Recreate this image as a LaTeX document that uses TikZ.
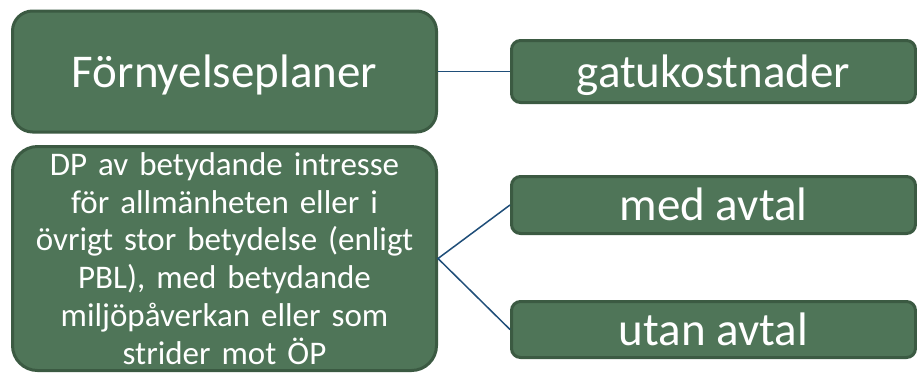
\documentclass[tikz,border=0pt]{standalone}
\usepackage{fontspec}
\setmainfont{Carlito}
\newfontfamily\dpfont{Carlito}[WordSpace=0.85]
\definecolor{boxfill}{HTML}{4F7558}
\definecolor{boxline}{HTML}{3B5A42}
\definecolor{conn}{HTML}{1F4E79}
\begin{document}
\begin{tikzpicture}[x=1pt,y=-1pt,
  gbox/.style={draw=boxline, line width=3pt, fill=boxfill, text=white, inner sep=0pt, align=center},
  bigtxt/.style={font=\fontsize{47}{56}\selectfont, text height=31pt, text depth=0pt},
  smalltxt/.style={font=\dpfont\fontsize{33}{37.8}\selectfont},
  link/.style={draw=conn, line width=1.5pt}]
\useasboundingbox (0,0) rectangle (917,373);
\fill[white] (0,0) rectangle (917,373);
\node[gbox, bigtxt, rounded corners=20pt, minimum width=424pt, minimum height=121pt] (forny) at (224.5,71.5) {Förnyelseplaner};
\node[gbox, bigtxt, rounded corners=9pt, minimum width=404pt, minimum height=62pt] (gatu) at (713.5,71.5) {gatukostnader};
\node[gbox, smalltxt, rounded corners=25pt, minimum width=424pt, minimum height=224pt, text width=414pt] (dp) at (224.5,258.5) {DP av betydande intresse\\för allmänheten eller i\\övrigt stor betydelse (enligt\\PBL), med betydande\\miljöpåverkan eller som\\strider mot ÖP};
\node[gbox, bigtxt, rounded corners=9pt, minimum width=404pt, minimum height=57pt] (med) at (713.5,205) {med avtal};
\node[gbox, bigtxt, rounded corners=9pt, minimum width=404pt, minimum height=56pt] (utan) at (713.5,329.5) {utan avtal};
\draw[link] (forny.east) -- (gatu.west);
\draw[link] (med.west) -- (dp.east) -- (utan.west);
\end{tikzpicture}
\end{document}
